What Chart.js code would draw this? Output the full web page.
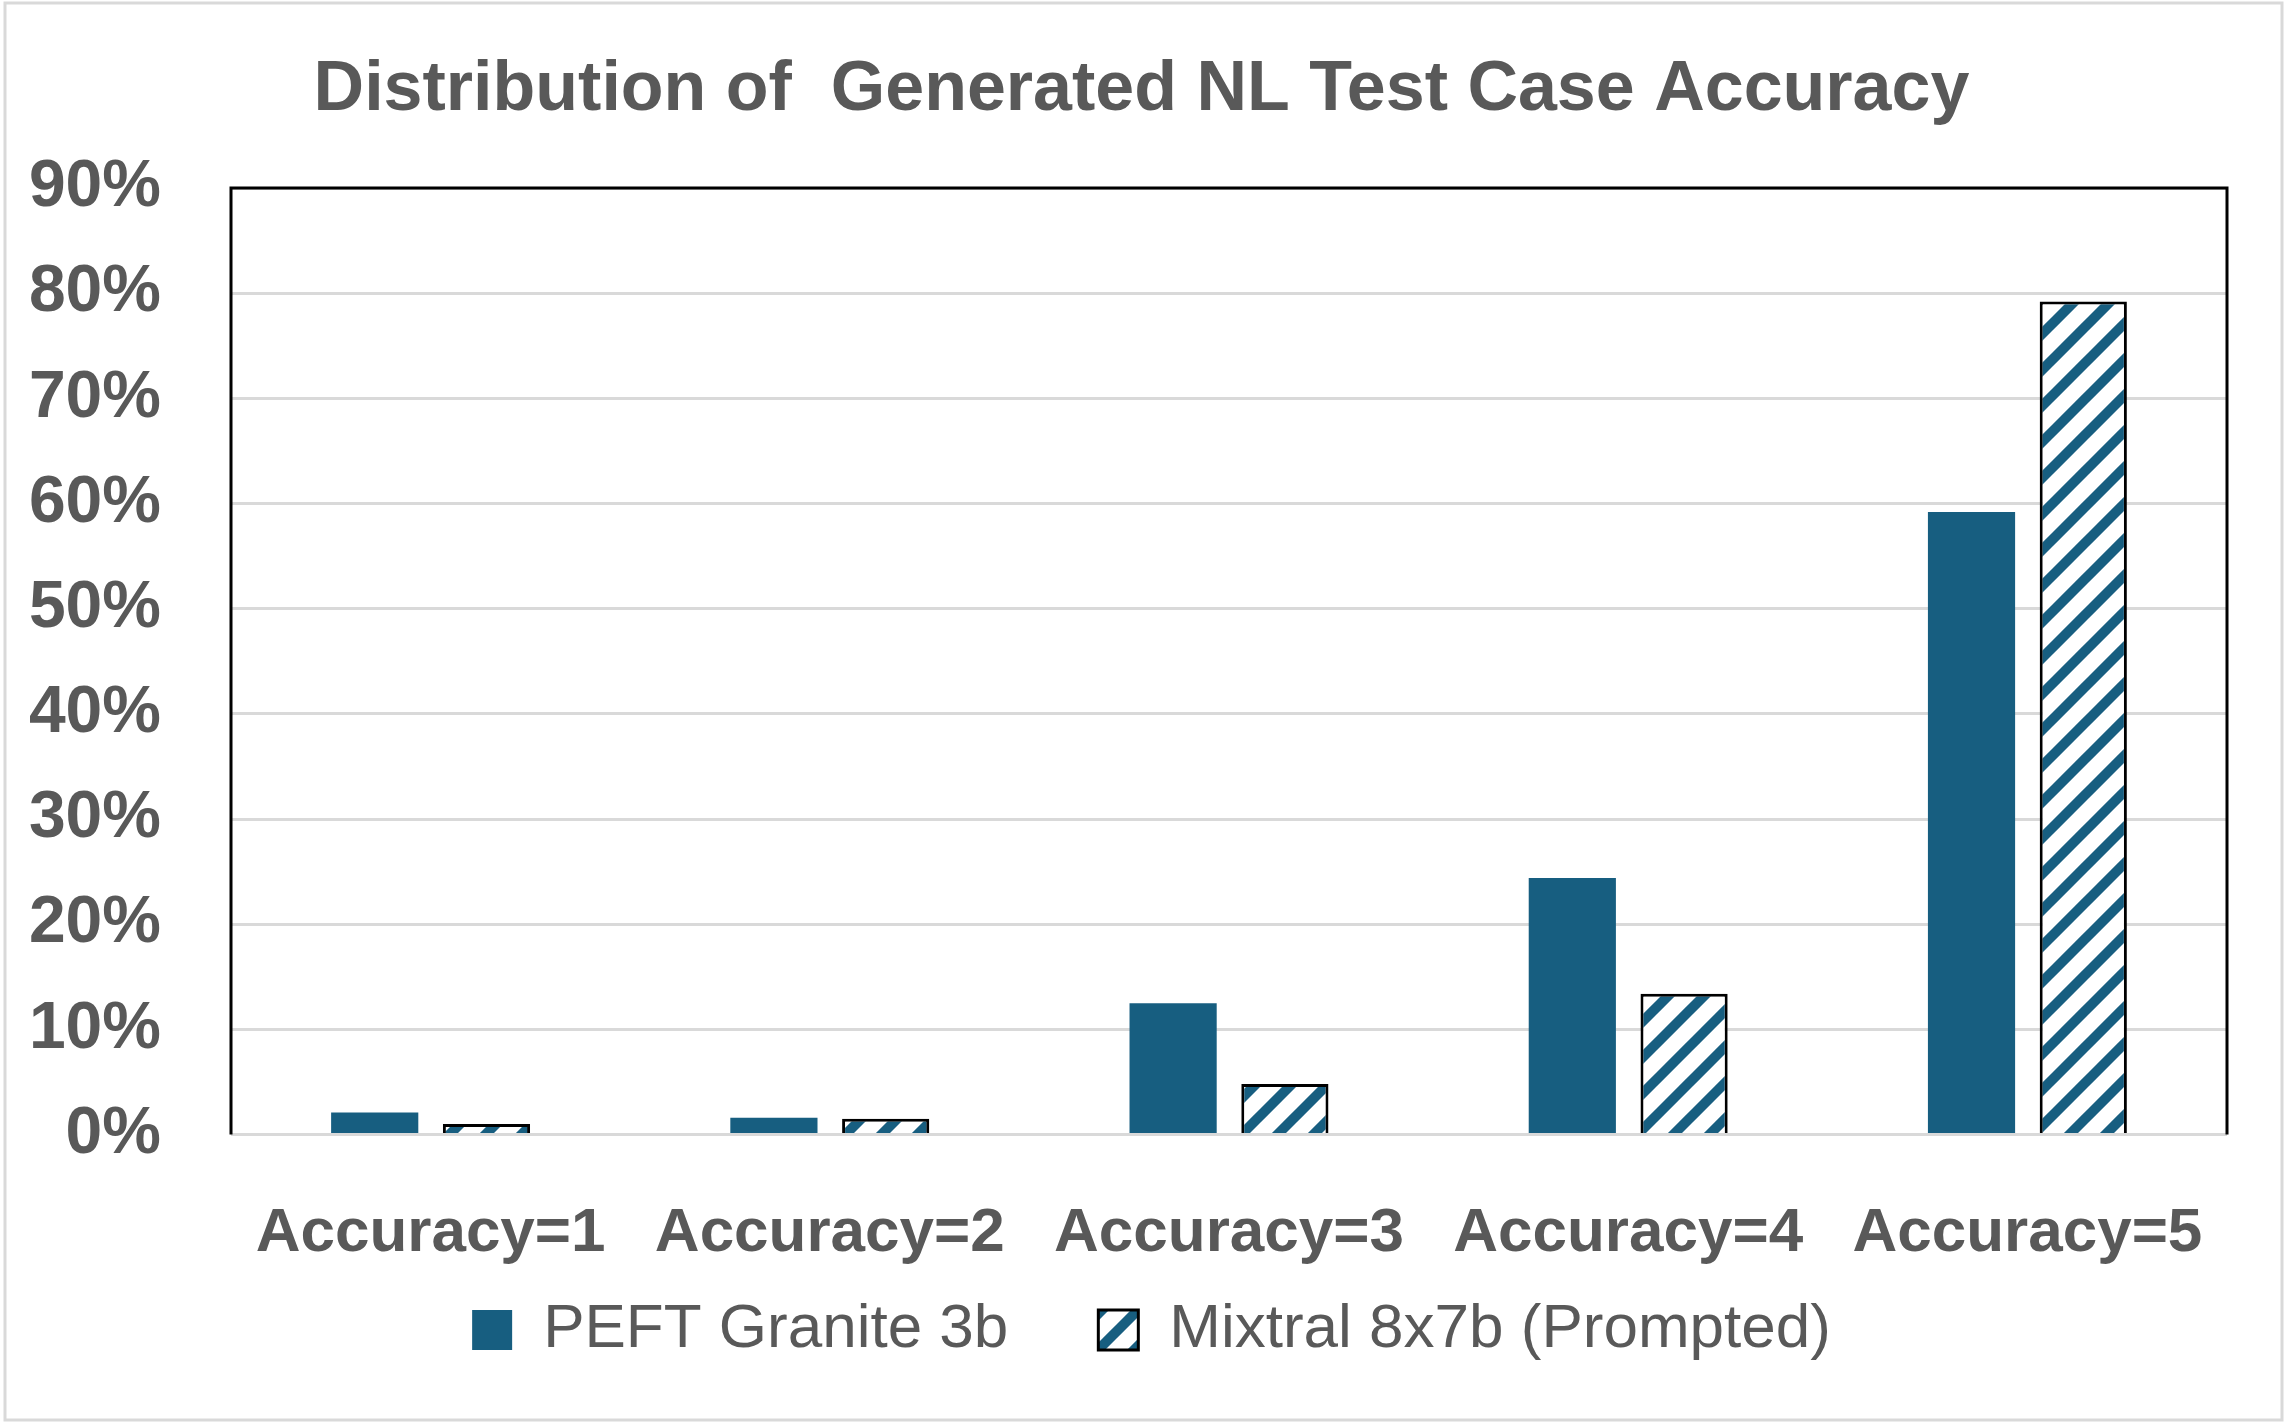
<!DOCTYPE html>
<html>
<head>
<meta charset="utf-8">
<script src="https://cdn.jsdelivr.net/npm/chart.js@4"></script>
<style>
    html, body { margin: 0; padding: 0; background: #ffffff; }
    #wrap { width: 2287px; height: 1425px; position: relative; }
</style>
</head>
<body>
<div id="wrap"><canvas id="accuracyChart"></canvas></div>
<script>
// chart values
const categories = ["Accuracy=1", "Accuracy=2", "Accuracy=3", "Accuracy=4", "Accuracy=5"];
const graniteValues = [2.1, 1.6, 12.5, 24.4, 59.2];
const mixtralValues = [1.0, 1.5, 4.8, 13.4, 79.2];
const yTickValues = [0, 10, 20, 30, 40, 50, 60, 70, 80, 90];

const BLUE = "#175e80";
const GREY_TEXT = "#595959";
const FONT = "'Liberation Sans', Arial, sans-serif";

// wide upward diagonal hatch, like the Excel pattern fill
function makeHatch() {
    const size = 36;
    const c = document.createElement("canvas");
    c.width = size;
    c.height = size;
    const g = c.getContext("2d");
    g.fillStyle = "#ffffff";
    g.fillRect(0, 0, size, size);
    g.strokeStyle = BLUE;
    g.lineWidth = 10;
    g.beginPath();
    g.moveTo(-size / 2, size / 2);
    g.lineTo(size / 2, -size / 2);
    g.moveTo(0, size);
    g.lineTo(size, 0);
    g.moveTo(size / 2, size * 1.5);
    g.lineTo(size * 1.5, size / 2);
    g.stroke();
    return g.createPattern(c, "repeat");
}
const hatch = makeHatch();

// black frame on top, left and right of the plot, grey outline round the whole picture
const framePlugin = {
    id: "plotFrame",
    afterLayout(chart) {
        // title and legend sit a bit right of the full-width centre in the original,
        // and the legend sits closer to the category labels
        chart.titleBlock.left += 28;
        chart.titleBlock.right += 28;
        chart.legend.left += 38;
        chart.legend.right += 38;
        chart.legend.top -= 116;
        chart.legend.bottom -= 116;
    },
    beforeDraw(chart) {
        const ctx = chart.ctx;
        ctx.save();
        ctx.strokeStyle = "#d9d9d9";
        ctx.lineWidth = 3;
        ctx.strokeRect(5, 3, 2277, 1417);
        ctx.restore();
    },
    afterDatasetsDraw(chart) {
        const a = chart.chartArea;
        const ctx = chart.ctx;
        ctx.save();
        ctx.strokeStyle = "#000000";
        ctx.lineWidth = 3;
        ctx.beginPath();
        ctx.moveTo(a.left, a.bottom);
        ctx.lineTo(a.left, a.top);
        ctx.lineTo(a.right, a.top);
        ctx.lineTo(a.right, a.bottom);
        ctx.stroke();
        ctx.restore();
    },
};

new Chart(document.getElementById("accuracyChart"), {
    type: "bar",
    data: {
        labels: categories,
        datasets: [
            {
                label: "PEFT Granite 3b",
                data: graniteValues,
                backgroundColor: BLUE,
                borderWidth: 0,
                categoryPercentage: 0.56,
                barPercentage: 0.78,
            },
            {
                label: "Mixtral 8x7b (Prompted)",
                data: mixtralValues,
                backgroundColor: hatch,
                borderColor: "#000000",
                borderWidth: 3,
                categoryPercentage: 0.56,
                barPercentage: 0.78,
            },
        ],
    },
    options: {
        responsive: true,
        maintainAspectRatio: false,
        animation: false,
        layout: {
            padding: { left: 0, right: 60, top: 0, bottom: -62 },
        },
        scales: {
            x: {
                grid: { display: false },
                border: { display: false },
                ticks: {
                    color: GREY_TEXT,
                    padding: 54,
                    maxRotation: 0,
                    minRotation: 0,
                    autoSkip: false,
                    font: { family: FONT, size: 62, weight: "bold" },
                },
            },
            y: {
                min: 0,
                max: 90,
                afterBuildTicks(scale) {
                    scale.ticks = yTickValues.map((v) => ({ value: v }));
                },
                afterFit(scale) {
                    scale.width = 231;
                },
                grid: {
                    color: "#d9d9d9",
                    lineWidth: 3,
                    drawTicks: false,
                },
                border: { display: false },
                ticks: {
                    color: GREY_TEXT,
                    padding: 70,
                    font: { family: FONT, size: 66, weight: "bold" },
                    callback: (v) => v + "%",
                },
            },
        },
        plugins: {
            title: {
                display: true,
                text: "Distribution of  Generated NL Test Case Accuracy",
                color: GREY_TEXT,
                font: { family: FONT, size: 70, weight: "bold" },
                padding: { top: 49, bottom: 55 },
            },
            legend: {
                display: true,
                position: "bottom",
                labels: {
                    color: GREY_TEXT,
                    boxWidth: 40,
                    boxHeight: 40,
                    padding: 90,
                    font: { family: FONT, size: 62 },
                },
            },
            tooltip: { enabled: false },
        },
    },
    plugins: [framePlugin],
});
</script>
</body>
</html>
